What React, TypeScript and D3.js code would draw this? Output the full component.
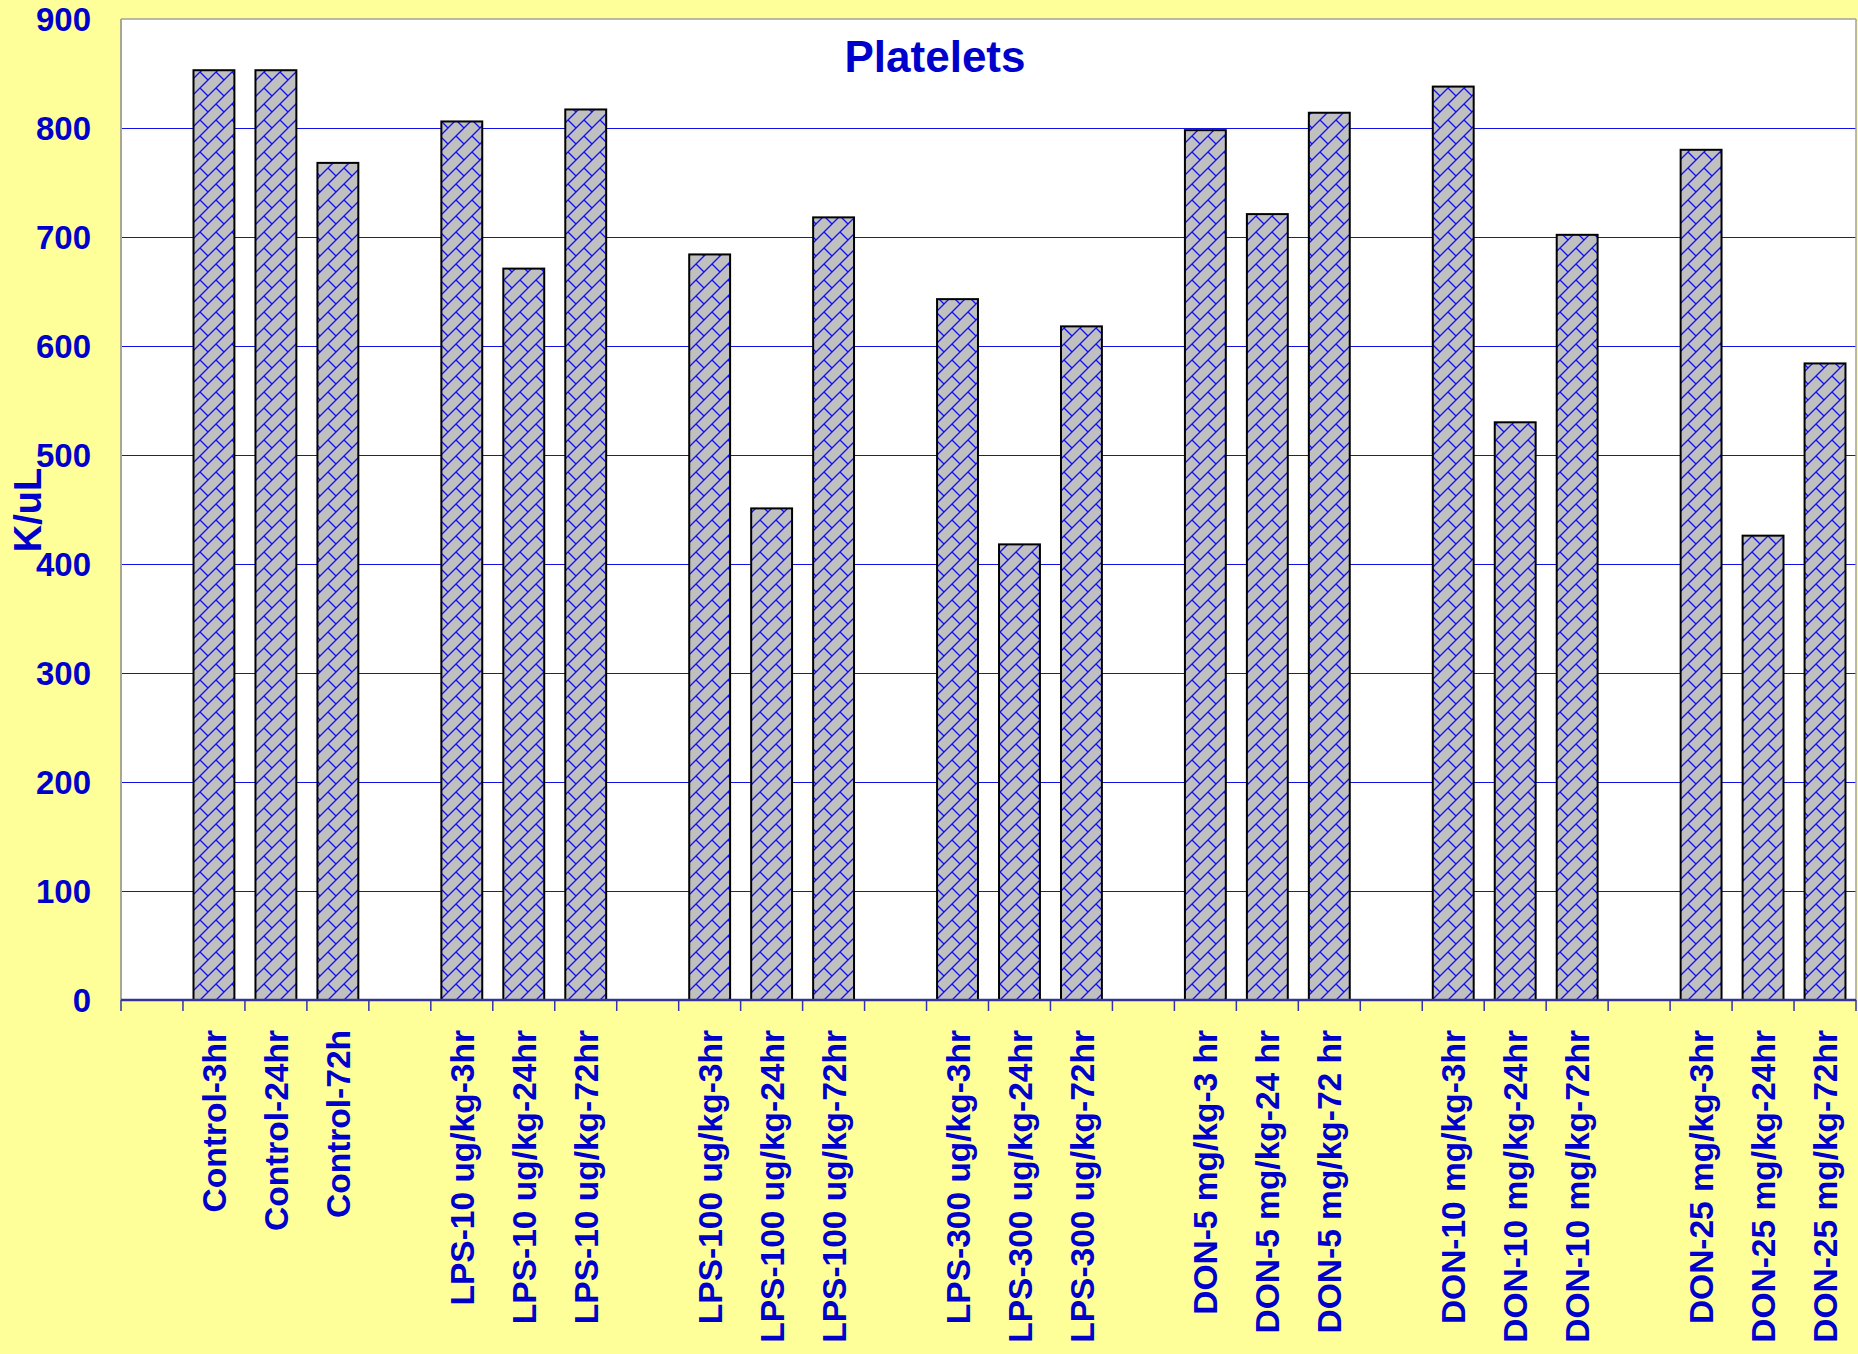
import React from "react";
import * as d3 from "d3";

const labels: string[] = [
  "", "Control-3hr", "Control-24hr", "Control-72h",
  "", "LPS-10 ug/kg-3hr", "LPS-10 ug/kg-24hr", "LPS-10 ug/kg-72hr",
  "", "LPS-100 ug/kg-3hr", "LPS-100 ug/kg-24hr", "LPS-100 ug/kg-72hr",
  "", "LPS-300 ug/kg-3hr", "LPS-300 ug/kg-24hr", "LPS-300 ug/kg-72hr",
  "", "DON-5 mg/kg-3 hr", "DON-5 mg/kg-24 hr", "DON-5 mg/kg-72 hr",
  "", "DON-10 mg/kg-3hr", "DON-10 mg/kg-24hr", "DON-10 mg/kg-72hr",
  "", "DON-25 mg/kg-3hr", "DON-25 mg/kg-24hr", "DON-25 mg/kg-72hr",
];

const values: (number | null)[] = [
  null, 853, 853, 768,
  null, 806, 671, 817,
  null, 684, 451, 718,
  null, 643, 418, 618,
  null, 798, 721, 814,
  null, 838, 530, 702,
  null, 780, 426, 584,
];

const yTicks: number[] = [0, 100, 200, 300, 400, 500, 600, 700, 800, 900];
const title = "Platelets";
const yTitle = "K/uL";

const W = 1858;
const H = 1354;
const left = 121;
const right = 1856;
const top = 19;
const bottom = 1000;
const FONT = "'Liberation Sans', Arial, Helvetica, sans-serif";
const TEXT = "#0000CC";

export default function App() {
  const x = d3
    .scaleBand<number>()
    .domain(d3.range(labels.length))
    .range([left, right])
    .paddingInner(0.34)
    .paddingOuter(0.17);
  const y = d3.scaleLinear().domain([0, 900]).range([bottom, top]);
  const step = x.step();
  const bw = x.bandwidth();

  return (
    <svg
      width={W}
      height={H}
      style={{ position: "absolute", left: 0, top: 0 }}
      fontFamily={FONT}
    >
      <defs>
        <pattern id="brick" width={16} height={16} patternUnits="userSpaceOnUse">
          <rect width={16} height={16} fill="#C0C0C0" />
          <path
            d="M-4,4 L4,-4 M0,16 L16,0 M12,20 L20,12 M8,8 L16,16 M-8,-8 L0,0 M8,24 L16,32"
            stroke="#1010F0"
            strokeWidth={1.3}
            fill="none"
          />
        </pattern>
      </defs>
      <rect x={0} y={0} width={W} height={H} fill="#FFFF99" />
      <rect x={left} y={top} width={right - left} height={bottom - top} fill="#FFFFFF" />
      {yTicks
        .filter((t) => t > 0 && t < 900)
        .map((t) => (
          <line
            key={"g" + t}
            x1={left}
            x2={right}
            y1={Math.round(y(t)) + 0.5}
            y2={Math.round(y(t)) + 0.5}
            stroke="#1111E6"
            strokeWidth={1.2}
          />
        ))}
      {/* plot border */}
      <line x1={left} x2={right} y1={top} y2={top} stroke="#A0A0A0" strokeWidth={1.5} />
      <line x1={right} x2={right} y1={top} y2={bottom} stroke="#A0A0A0" strokeWidth={1.5} />
      <line x1={left} x2={left} y1={top} y2={bottom} stroke="#A8A890" strokeWidth={2} />
      {/* bars */}
      {values.map((v, i) =>
        v == null ? null : (
          <rect
            key={"b" + i}
            x={x(i)!}
            y={y(v)}
            width={bw}
            height={y(0) - y(v)}
            fill="url(#brick)"
            stroke="#000"
            strokeWidth={2}
          />
        )
      )}
      {/* x axis */}
      <line x1={left} x2={right} y1={bottom} y2={bottom} stroke="#333399" strokeWidth={2.5} />
      {d3.range(labels.length + 1).map((i) => {
        const xx = left + i * step;
        return (
          <line key={"t" + i} x1={xx} x2={xx} y1={bottom} y2={bottom + 11} stroke="#3333AA" strokeWidth={1.5} />
        );
      })}
      {labels.map((l, i) =>
        l ? (
          <text
            key={"l" + i}
            transform={`translate(${x(i)! + bw / 2},1030) rotate(-90)`}
            textAnchor="end"
            dy="0.36em"
            fontSize={33.5}
            fontWeight="bold"
            fill={TEXT}
          >
            {l}
          </text>
        ) : null
      )}
      {/* y tick labels */}
      {yTicks.map((t) => (
        <text
          key={"y" + t}
          x={91}
          y={y(t)}
          dy="0.36em"
          textAnchor="end"
          fontSize={33}
          fontWeight="bold"
          fill={TEXT}
        >
          {t}
        </text>
      ))}
      <text
        transform={`translate(41,510) rotate(-90)`}
        textAnchor="middle"
        fontSize={38}
        fontWeight="bold"
        fill={TEXT}
      >
        {yTitle}
      </text>
      <text x={935} y={72} textAnchor="middle" fontSize={44} fontWeight="bold" fill={TEXT}>
        {title}
      </text>
    </svg>
  );
}
